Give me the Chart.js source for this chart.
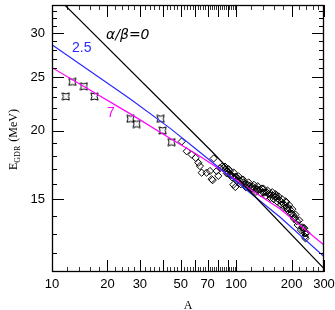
<!DOCTYPE html>
<html>
<head>
<meta charset="utf-8">
<script src="https://cdn.jsdelivr.net/npm/chart.js@4.4.0/dist/chart.umd.min.js"></script>
<style>
  html, body { margin: 0; padding: 0; background: #fff; }
  #wrap { width: 335px; height: 310px; }
</style>
</head>
<body>
<div id="wrap"><canvas id="myChart" width="335" height="310"></canvas></div>
<script>
// curves
const blackA = [11.5, 73.6, 300];
const blackE = [34.0, 18.34, 11.24];
const blueA = [10, 26.5, 43.7, 63.6, 172.9, 300];
const blueE = [28.6, 22.83, 20.2, 18.26, 13.94, 11.82];
const magA = [10, 26.5, 43.7, 63.6, 172.9, 300];
const magE = [26.0, 21.46, 19.37, 17.97, 14.43, 12.4];

// light nuclei (star markers)
const starA = [11.9, 12.9, 14.9, 17.0, 26.7, 28.8, 38.9, 39.9, 44.6];
const starE = [23.05, 24.5, 24.05, 23.05, 21.0, 20.55, 21.0, 20.0, 19.05];

// diamonds
const diaA = [50.6, 53.9, 57.3, 60.3, 62.3, 63.6, 65.0, 69.1, 72.1, 73.6, 74.6, 75.5, 78.4, 80.0,
  81.7, 84, 85.1, 86.9, 88.8, 90.3, 92.6, 92.6, 94, 96.5, 99, 98.5, 100, 102.3, 104.9, 107.5,
  110, 111.6, 114, 115.9, 118.8, 121, 123.4, 126, 129.2, 132, 134.7, 138.1, 140.3, 143, 146.4,
  150, 152.6, 155, 158.4, 162.4, 165, 168.6, 172.9, 176, 179.5, 184.1, 186, 188.7, 192, 195.9,
  200.9, 204, 208.6, 213.8, 228, 231.4, 233.3, 236.4, 236.4, 241.3,
  87, 89, 91, 95, 97, 101, 103, 106, 109, 113, 117, 120, 125, 128, 131, 136, 141, 145, 148, 154,
  157, 160, 164, 167, 170, 175, 178, 182, 187, 190, 194, 198, 202, 206, 210, 216, 220, 225, 234, 238];
const diaE = [19.1, 18.34, 18.09, 17.84, 17.48, 17.24, 16.77, 16.77, 16.89, 16.32, 16.26, 17.8, 16.89, 16.55,
  17.1, 17.2, 17.1, 17.0, 16.89, 16.75, 16.66, 16.89, 16.6, 15.95, 15.8, 16.48, 16.5, 16.34, 16.21, 16.27,
  16.1, 16.0, 15.95, 15.94, 15.88, 15.75, 15.81, 15.7, 15.66, 15.6, 15.62, 15.7, 15.45, 15.45, 15.45,
  15.35, 15.30, 15.35, 15.24, 15.18, 15.2, 15.05, 14.93, 14.85, 14.75, 14.63, 14.88, 14.45, 14.5, 14.39,
  14.14, 14.05, 13.87, 13.70, 13.35, 13.20, 13.32, 13.02, 12.84, 13.04,
  17.2, 16.72, 17.02, 16.45, 16.78, 16.22, 16.52, 15.98, 16.3, 15.78, 16.1, 15.66, 15.94, 15.48, 15.85, 15.4, 15.68, 15.22, 15.57, 15.09,
  15.46, 15.02, 15.33, 14.86, 15.19, 14.68, 15.01, 14.54, 14.82, 14.35, 14.65, 14.13, 14.4, 13.84, 14.08, 13.48, 13.75, 13.2, 13.3, 12.75];

// axis ticks
const xLabels = [10, 20, 30, 50, 70, 100, 200, 300];
const xMajor = [10, 20, 30, 40, 50, 60, 70, 80, 90, 100, 200, 300];
const xMinor = [12, 14, 16, 18, 22, 24, 26, 28, 32, 34, 36, 38, 42, 44, 46, 48, 52, 54, 56, 58,
  62, 64, 66, 68, 72, 74, 76, 78, 82, 84, 86, 88, 92, 94, 96, 98,
  120, 140, 160, 180, 220, 240, 260, 280];
const yMajor = [15, 20, 25, 30];
const yMinor = [12, 13, 14, 16, 17, 18, 19, 21, 22, 23, 24, 26, 27, 28, 29, 31, 32, 33];

function pts(xs, ys) {
  return xs.map((x, i) => ({ x: x, y: ys[i] }));
}

// little concave star marker
function starMarker() {
  const c = document.createElement('canvas');
  c.width = 9; c.height = 9;
  const g = c.getContext('2d');
  const m = 4.5, r = 3.6, k = 1.5;
  g.strokeStyle = '#000';
  g.lineWidth = 1;
  g.beginPath();
  g.moveTo(m - r, m - r);
  g.quadraticCurveTo(m, m - k, m + r, m - r);
  g.quadraticCurveTo(m + k, m, m + r, m + r);
  g.quadraticCurveTo(m, m + k, m - r, m + r);
  g.quadraticCurveTo(m - k, m, m - r, m - r);
  g.closePath();
  g.stroke();
  return c;
}

const tickPlugin = {
  id: 'ticksAndText',
  afterDraw(chart) {
    const ctx = chart.ctx;
    const a = chart.chartArea;
    const xs = chart.scales.x, ys = chart.scales.y;
    ctx.save();
    ctx.strokeStyle = '#000';
    ctx.lineWidth = 1;
    ctx.beginPath();
    function xt(v, len) {
      const p = Math.round(xs.getPixelForValue(v)) + 0.5;
      ctx.moveTo(p, a.bottom); ctx.lineTo(p, a.bottom - len);
      ctx.moveTo(p, a.top); ctx.lineTo(p, a.top + len);
    }
    function yt(v, len) {
      const p = Math.round(ys.getPixelForValue(v)) + 0.5;
      ctx.moveTo(a.left, p); ctx.lineTo(a.left + len, p);
      ctx.moveTo(a.right, p); ctx.lineTo(a.right - len, p);
    }
    xMajor.forEach(v => xt(v, 12));
    yMajor.forEach(v => yt(v, 12));
    yMinor.forEach(v => yt(v, 5));
    ctx.stroke();
    ctx.beginPath();
    ctx.lineWidth = 0.8;
    xMinor.forEach(v => xt(v, 5));
    ctx.stroke();
    ctx.lineWidth = 1.3;
    ctx.strokeRect(a.left + 0.5, a.top + 0.5, a.right - a.left - 1, a.bottom - a.top - 1);

    // tick labels
    ctx.fillStyle = '#000';
    ctx.font = '13px "Liberation Sans"';
    ctx.textBaseline = 'middle';
    ctx.textAlign = 'center';
    xLabels.forEach(v => ctx.fillText(String(v), xs.getPixelForValue(v), a.bottom + 12));
    ctx.textAlign = 'right';
    yMajor.forEach(v => ctx.fillText(String(v), a.left - 7, ys.getPixelForValue(v)));

    // axis titles
    ctx.textBaseline = 'alphabetic';
    ctx.font = '12px "Liberation Serif"';
    ctx.textAlign = 'center';
    ctx.fillText('A', (a.left + a.right) / 2, 309);

    ctx.translate(17, 170);
    ctx.rotate(-Math.PI / 2);
    ctx.textAlign = 'left';
    ctx.font = '12px "Liberation Serif"';
    ctx.fillText('E', 0, 0);
    let w = ctx.measureText('E').width;
    ctx.font = '8px "Liberation Serif"';
    ctx.fillText('GDR', w, 3);
    w += ctx.measureText('GDR').width;
    ctx.font = '12px "Liberation Serif"';
    ctx.fillText(' (MeV)', w + 1, 0);
    ctx.restore();

    // curve labels
    ctx.save();
    ctx.textBaseline = 'middle';
    ctx.textAlign = 'left';
    ctx.font = 'italic 14px "DejaVu Sans"';
    ctx.fillStyle = '#000';
    ctx.fillText('\u03b1/\u03b2=0', 106, 35);
    ctx.font = '14px "Liberation Sans"';
    ctx.fillStyle = '#2a2aff';
    ctx.fillText('2.5', 72, 48);
    ctx.fillStyle = '#ff00ff';
    ctx.fillText('7', 107, 113);
    ctx.restore();
  }
};

var ctx = document.getElementById('myChart').getContext('2d');
var myChart = new Chart(ctx, {
  type: 'scatter',
  data: {
    datasets: [
      { data: pts(blackA, blackE), showLine: true, borderColor: '#000', borderWidth: 1.2, pointRadius: 0, tension: 0 },
      { data: pts(blueA, blueE), showLine: true, borderColor: '#2a2aff', borderWidth: 1.2, pointRadius: 0, tension: 0 },
      { data: pts(magA, magE), showLine: true, borderColor: '#ff00ff', borderWidth: 1.2, pointRadius: 0, tension: 0 },
      { data: pts(starA, starE), pointStyle: starMarker(), pointRadius: 4 },
      { data: pts(diaA, diaE), pointStyle: 'rectRot', pointRadius: 3.6, borderColor: '#000', borderWidth: 1, backgroundColor: 'rgba(0,0,0,0)' }
    ]
  },
  options: {
    responsive: false,
    animation: false,
    events: [],
    layout: { padding: { top: 1, right: 11, left: 0, bottom: 0 } },
    plugins: { legend: { display: false }, tooltip: { enabled: false } },
    scales: {
      x: {
        type: 'logarithmic', min: 10, max: 300,
        grid: { display: false, drawTicks: false }, border: { display: false },
        ticks: { display: false },
        afterFit: s => { s.height = 38; }
      },
      y: {
        type: 'logarithmic', min: 11.08, max: 33.77,
        grid: { display: false, drawTicks: false }, border: { display: false },
        ticks: { display: false },
        afterFit: s => { s.width = 52; }
      }
    }
  },
  plugins: [tickPlugin]
});
</script>
</body>
</html>
